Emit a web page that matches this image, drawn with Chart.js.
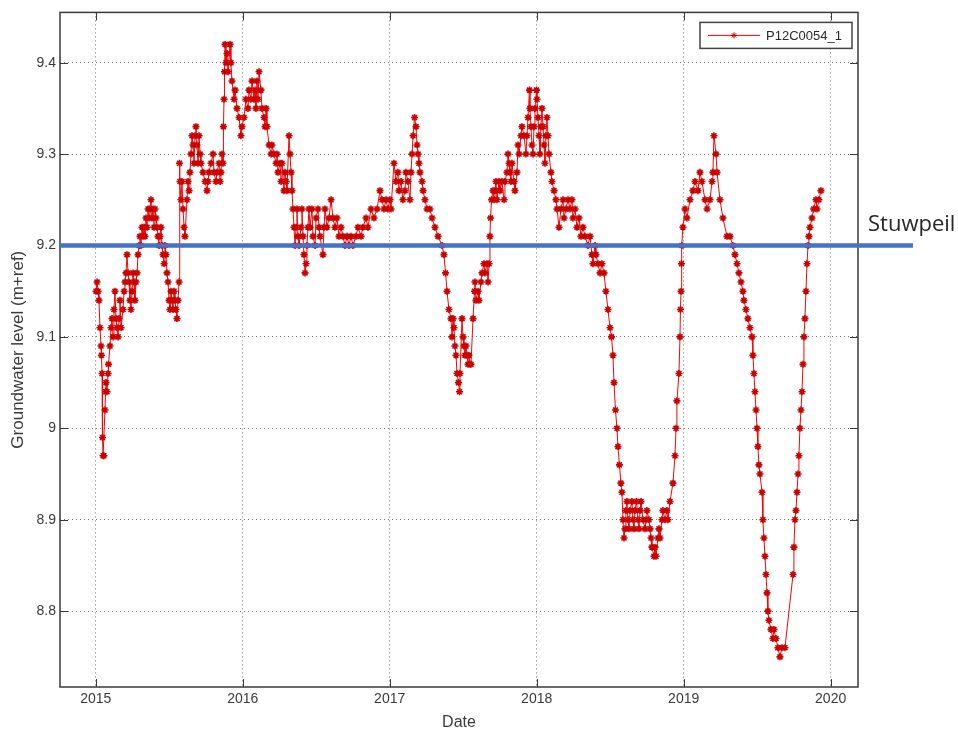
<!DOCTYPE html>
<html>
<head>
<meta charset="utf-8">
<title>P12C0054_1</title>
<script src="https://cdn.jsdelivr.net/npm/chart.js@4.4.1/dist/chart.umd.min.js"></script>
<style>
  html, body { margin: 0; padding: 0; background: #fff; }
  #wrap { position: relative; width: 958px; height: 729px; }
</style>
</head>
<body>
<div id="wrap"><canvas id="gwChart" width="958" height="729"></canvas></div>
<script>
const dates = [
  2015.002, 2015.009, 2015.016, 2015.022, 2015.029, 2015.036, 2015.039, 2015.043, 2015.046, 2015.050,
  2015.056, 2015.063, 2015.067, 2015.070, 2015.077, 2015.084, 2015.087, 2015.097, 2015.104, 2015.111,
  2015.118, 2015.124, 2015.131, 2015.138, 2015.145, 2015.152, 2015.159, 2015.165, 2015.172, 2015.186,
  2015.193, 2015.199, 2015.206, 2015.213, 2015.220, 2015.227, 2015.233, 2015.240, 2015.247, 2015.254,
  2015.261, 2015.267, 2015.274, 2015.281, 2015.288, 2015.295, 2015.301, 2015.308, 2015.315, 2015.322,
  2015.329, 2015.335, 2015.342, 2015.349, 2015.356, 2015.363, 2015.369, 2015.376, 2015.383, 2015.390,
  2015.397, 2015.403, 2015.410, 2015.417, 2015.424, 2015.431, 2015.437, 2015.444, 2015.451, 2015.458,
  2015.465, 2015.471, 2015.478, 2015.485, 2015.492, 2015.499, 2015.505, 2015.512, 2015.519, 2015.526,
  2015.533, 2015.539, 2015.546, 2015.553, 2015.560, 2015.567, 2015.570, 2015.573, 2015.580, 2015.587,
  2015.594, 2015.601, 2015.607, 2015.621, 2015.628, 2015.635, 2015.641, 2015.648, 2015.655, 2015.662,
  2015.669, 2015.676, 2015.682, 2015.689, 2015.696, 2015.703, 2015.710, 2015.716, 2015.730, 2015.744,
  2015.757, 2015.764, 2015.771, 2015.784, 2015.798, 2015.805, 2015.818, 2015.825, 2015.839, 2015.846,
  2015.852, 2015.859, 2015.866, 2015.869, 2015.873, 2015.876, 2015.880, 2015.886, 2015.893, 2015.900,
  2015.914, 2015.920, 2015.927, 2015.941, 2015.948, 2015.961, 2015.975, 2015.988, 2015.995, 2016.009,
  2016.022, 2016.036, 2016.043, 2016.056, 2016.063, 2016.077, 2016.084, 2016.090, 2016.097, 2016.104,
  2016.111, 2016.124, 2016.131, 2016.145, 2016.152, 2016.159, 2016.165, 2016.179, 2016.193, 2016.199,
  2016.213, 2016.227, 2016.233, 2016.240, 2016.254, 2016.261, 2016.267, 2016.281, 2016.288, 2016.295,
  2016.301, 2016.315, 2016.322, 2016.329, 2016.335, 2016.342, 2016.349, 2016.356, 2016.363, 2016.369,
  2016.376, 2016.383, 2016.397, 2016.403, 2016.410, 2016.417, 2016.424, 2016.431, 2016.437, 2016.444,
  2016.451, 2016.458, 2016.471, 2016.478, 2016.492, 2016.499, 2016.512, 2016.519, 2016.526, 2016.546,
  2016.553, 2016.560, 2016.573, 2016.587, 2016.601, 2016.614, 2016.628, 2016.641, 2016.655, 2016.669,
  2016.682, 2016.696, 2016.710, 2016.723, 2016.737, 2016.750, 2016.771, 2016.784, 2016.805, 2016.818,
  2016.839, 2016.852, 2016.873, 2016.893, 2016.914, 2016.934, 2016.948, 2016.961, 2016.975, 2016.988,
  2017.002, 2017.009, 2017.029, 2017.043, 2017.056, 2017.063, 2017.077, 2017.090, 2017.104, 2017.111,
  2017.124, 2017.138, 2017.145, 2017.152, 2017.159, 2017.169, 2017.179, 2017.186, 2017.193, 2017.199,
  2017.206, 2017.220, 2017.227, 2017.240, 2017.254, 2017.274, 2017.288, 2017.308, 2017.329, 2017.356,
  2017.369, 2017.380, 2017.390, 2017.403, 2017.417, 2017.424, 2017.431, 2017.437, 2017.444, 2017.451,
  2017.458, 2017.468, 2017.475, 2017.478, 2017.492, 2017.499, 2017.505, 2017.512, 2017.519, 2017.526,
  2017.533, 2017.539, 2017.546, 2017.553, 2017.567, 2017.577, 2017.580, 2017.587, 2017.601, 2017.607,
  2017.621, 2017.628, 2017.641, 2017.648, 2017.662, 2017.669, 2017.676, 2017.682, 2017.686, 2017.693,
  2017.703, 2017.710, 2017.716, 2017.723, 2017.730, 2017.744, 2017.750, 2017.764, 2017.778, 2017.784,
  2017.798, 2017.805, 2017.812, 2017.818, 2017.825, 2017.832, 2017.846, 2017.852, 2017.866, 2017.873,
  2017.880, 2017.893, 2017.900, 2017.914, 2017.927, 2017.934, 2017.941, 2017.951, 2017.954, 2017.961,
  2017.968, 2017.975, 2017.982, 2017.988, 2017.999, 2018.002, 2018.009, 2018.016, 2018.022, 2018.029,
  2018.036, 2018.043, 2018.050, 2018.056, 2018.063, 2018.070, 2018.077, 2018.084, 2018.097, 2018.104,
  2018.118, 2018.131, 2018.138, 2018.152, 2018.165, 2018.179, 2018.186, 2018.199, 2018.213, 2018.227,
  2018.240, 2018.247, 2018.261, 2018.274, 2018.288, 2018.301, 2018.315, 2018.329, 2018.349, 2018.363,
  2018.376, 2018.383, 2018.397, 2018.403, 2018.417, 2018.431, 2018.444, 2018.458, 2018.471, 2018.485,
  2018.499, 2018.509, 2018.519, 2018.526, 2018.536, 2018.546, 2018.553, 2018.563, 2018.573, 2018.580,
  2018.587, 2018.594, 2018.601, 2018.607, 2018.614, 2018.621, 2018.628, 2018.635, 2018.648, 2018.655,
  2018.662, 2018.669, 2018.679, 2018.689, 2018.696, 2018.703, 2018.710, 2018.723, 2018.737, 2018.744,
  2018.750, 2018.764, 2018.771, 2018.778, 2018.784, 2018.798, 2018.805, 2018.812, 2018.825, 2018.832,
  2018.839, 2018.852, 2018.859, 2018.873, 2018.886, 2018.893, 2018.907, 2018.927, 2018.941, 2018.948,
  2018.954, 2018.968, 2018.975, 2018.978, 2018.982, 2018.985, 2018.988, 2018.995, 2019.009, 2019.022,
  2019.043, 2019.063, 2019.077, 2019.097, 2019.111, 2019.124, 2019.145, 2019.159, 2019.179, 2019.193,
  2019.199, 2019.206, 2019.220, 2019.227, 2019.247, 2019.267, 2019.295, 2019.315, 2019.335, 2019.349,
  2019.363, 2019.376, 2019.390, 2019.403, 2019.410, 2019.424, 2019.437, 2019.451, 2019.465, 2019.471,
  2019.478, 2019.485, 2019.492, 2019.499, 2019.505, 2019.512, 2019.519, 2019.533, 2019.539, 2019.546,
  2019.553, 2019.560, 2019.567, 2019.573, 2019.580, 2019.594, 2019.607, 2019.614, 2019.628, 2019.641,
  2019.655, 2019.669, 2019.689, 2019.744, 2019.750, 2019.757, 2019.764, 2019.771, 2019.778, 2019.784,
  2019.791, 2019.798, 2019.805, 2019.812, 2019.818, 2019.825, 2019.832, 2019.839, 2019.846, 2019.852,
  2019.859, 2019.873, 2019.884, 2019.900, 2019.907, 2019.920, 2019.934
];

// groundwater level (m+ref)
const levels = [
  9.15, 9.16, 9.15, 9.14, 9.11, 9.09, 9.08, 9.06, 8.99, 8.97,
  8.97, 9.02, 9.04, 9.05, 9.04, 9.06, 9.07, 9.09, 9.11, 9.12,
  9.10, 9.13, 9.15, 9.12, 9.11, 9.10, 9.12, 9.14, 9.11, 9.13,
  9.15, 9.16, 9.17, 9.19, 9.17, 9.16, 9.14, 9.13, 9.15, 9.17,
  9.16, 9.14, 9.16, 9.17, 9.19, 9.20, 9.21, 9.20, 9.22, 9.21,
  9.22, 9.21, 9.23, 9.22, 9.24, 9.23, 9.24, 9.25, 9.23, 9.24,
  9.22, 9.24, 9.23, 9.22, 9.21, 9.20, 9.21, 9.22, 9.20, 9.19,
  9.18, 9.20, 9.19, 9.17, 9.16, 9.14, 9.13, 9.15, 9.14, 9.13,
  9.15, 9.14, 9.13, 9.12, 9.14, 9.16, 9.29, 9.27, 9.25, 9.27,
  9.24, 9.22, 9.21, 9.25, 9.27, 9.26, 9.28, 9.30, 9.32, 9.31,
  9.29, 9.32, 9.33, 9.31, 9.29, 9.32, 9.30, 9.29, 9.28, 9.27,
  9.26, 9.27, 9.28, 9.29, 9.30, 9.28, 9.27, 9.28, 9.29, 9.27,
  9.28, 9.30, 9.29, 9.33, 9.36, 9.39, 9.42, 9.40, 9.41, 9.39,
  9.42, 9.40, 9.38, 9.36, 9.37, 9.35, 9.34, 9.32, 9.33, 9.34,
  9.36, 9.35, 9.37, 9.36, 9.38, 9.36, 9.37, 9.35, 9.38, 9.36,
  9.39, 9.37, 9.35, 9.34, 9.33, 9.35, 9.33, 9.31, 9.30, 9.31,
  9.30, 9.29, 9.30, 9.28, 9.29, 9.27, 9.29, 9.26, 9.28, 9.27,
  9.26, 9.32, 9.30, 9.28, 9.26, 9.24, 9.22, 9.20, 9.22, 9.24,
  9.21, 9.20, 9.22, 9.24, 9.21, 9.19, 9.17, 9.18, 9.20, 9.22,
  9.24, 9.22, 9.24, 9.21, 9.20, 9.23, 9.24, 9.22, 9.21, 9.19,
  9.22, 9.24, 9.22, 9.23, 9.25, 9.23, 9.22, 9.23, 9.21, 9.22,
  9.21, 9.20, 9.21, 9.20, 9.21, 9.20, 9.21, 9.22, 9.21, 9.22,
  9.23, 9.22, 9.24, 9.23, 9.24, 9.26, 9.25, 9.24, 9.25, 9.24,
  9.25, 9.24, 9.29, 9.27, 9.28, 9.26, 9.27, 9.25, 9.26, 9.28,
  9.27, 9.25, 9.28, 9.30, 9.32, 9.34, 9.33, 9.31, 9.30, 9.29,
  9.28, 9.27, 9.26, 9.25, 9.24, 9.24, 9.23, 9.22, 9.21, 9.20,
  9.19, 9.17, 9.15, 9.13, 9.12, 9.10, 9.12, 9.11, 9.09, 9.08,
  9.06, 9.05, 9.04, 9.06, 9.12, 9.10, 9.09, 9.08, 9.09, 9.08,
  9.07, 9.08, 9.07, 9.07, 9.12, 9.15, 9.16, 9.14, 9.15, 9.14,
  9.16, 9.17, 9.18, 9.17, 9.18, 9.16, 9.18, 9.21, 9.23, 9.25,
  9.26, 9.25, 9.26, 9.27, 9.25, 9.27, 9.26, 9.27, 9.25, 9.27,
  9.28, 9.30, 9.29, 9.28, 9.27, 9.29, 9.27, 9.26, 9.28, 9.31,
  9.30, 9.32, 9.33, 9.32, 9.30, 9.32, 9.34, 9.37, 9.35, 9.33,
  9.31, 9.30, 9.33, 9.35, 9.37, 9.36, 9.34, 9.32, 9.30, 9.33,
  9.35, 9.33, 9.31, 9.29, 9.32, 9.34, 9.32, 9.30, 9.28, 9.27,
  9.26, 9.25, 9.24, 9.22, 9.24, 9.25, 9.23, 9.24, 9.25, 9.24,
  9.25, 9.23, 9.24, 9.22, 9.23, 9.21, 9.22, 9.21, 9.20, 9.21,
  9.19, 9.18, 9.20, 9.19, 9.18, 9.17, 9.18, 9.17, 9.15, 9.13,
  9.11, 9.10, 9.08, 9.05, 9.02, 9.00, 8.98, 8.96, 8.94, 8.93,
  8.90, 8.88, 8.89, 8.91, 8.92, 8.90, 8.89, 8.91, 8.92, 8.90,
  8.89, 8.91, 8.92, 8.90, 8.89, 8.91, 8.92, 8.90, 8.89, 8.90,
  8.91, 8.90, 8.89, 8.88, 8.87, 8.86, 8.87, 8.86, 8.88, 8.89,
  8.88, 8.90, 8.91, 8.90, 8.91, 8.90, 8.92, 8.94, 8.97, 9.00,
  9.03, 9.06, 9.10, 9.13, 9.15, 9.18, 9.20, 9.22, 9.24, 9.23,
  9.25, 9.26, 9.27, 9.26, 9.28, 9.27, 9.25, 9.24, 9.25, 9.27,
  9.28, 9.32, 9.30, 9.28, 9.25, 9.23, 9.21, 9.21, 9.20, 9.19,
  9.18, 9.17, 9.16, 9.15, 9.14, 9.13, 9.12, 9.11, 9.10, 9.08,
  9.06, 9.04, 9.02, 9.00, 8.98, 8.96, 8.95, 8.93, 8.90, 8.88,
  8.86, 8.84, 8.82, 8.80, 8.79, 8.78, 8.77, 8.78, 8.77, 8.76,
  8.75, 8.76, 8.76, 8.84, 8.87, 8.90, 8.91, 8.93, 8.95, 8.97,
  9.00, 9.02, 9.04, 9.07, 9.10, 9.12, 9.15, 9.18, 9.20, 9.21,
  9.22, 9.23, 9.24, 9.25, 9.24, 9.25, 9.26
];

const seriesName = 'P12C0054_1';
const xTicks = [2015, 2016, 2017, 2018, 2019, 2020];
const yTicks = [8.8, 8.9, 9, 9.1, 9.2, 9.3, 9.4];
const xRange = [2014.757, 2020.186];
const yRange = [8.717, 9.455];

// weir level (stuwpeil) reference line
const stuwpeilLabel = 'Stuwpeil';
const stuwpeilLevel = 9.2;
const stuwpeilSpan = [2014.757, 2020.56];

const axisColor = '#3a3a3a';
const tickFont = { family: '"Liberation Sans", Arial, sans-serif', size: 14 };

// MATLAB style box around the axes with inward ticks
const axesBox = {
  id: 'axesBox',
  beforeDatasetsDraw(chart) {
    const { ctx, chartArea: a, scales } = chart;
    ctx.save();
    ctx.strokeStyle = axisColor;
    ctx.lineWidth = 1;
    ctx.beginPath();
    scales.x.ticks.forEach(t => {
      const px = Math.round(scales.x.getPixelForValue(t.value)) + 0.5;
      ctx.moveTo(px, a.bottom); ctx.lineTo(px, a.bottom - 8);
      ctx.moveTo(px, a.top); ctx.lineTo(px, a.top + 8);
    });
    scales.y.ticks.forEach(t => {
      const py = Math.round(scales.y.getPixelForValue(t.value)) + 0.5;
      ctx.moveTo(a.left, py); ctx.lineTo(a.left + 8, py);
      ctx.moveTo(a.right, py); ctx.lineTo(a.right - 8, py);
    });
    ctx.stroke();
    ctx.lineWidth = 1.5;
    ctx.strokeRect(a.left, a.top, a.right - a.left, a.bottom - a.top);
    ctx.restore();
  }
};

// legend box in the top right corner + the Stuwpeil label
const overlay = {
  id: 'overlay',
  afterDraw(chart) {
    const { ctx, chartArea: a, scales } = chart;
    ctx.save();
    const bx = a.right - 158, by = a.top + 10, bw = 152, bh = 26;
    ctx.fillStyle = '#fff';
    ctx.fillRect(bx, by, bw, bh);
    ctx.strokeStyle = '#444';
    ctx.lineWidth = 1.5;
    ctx.strokeRect(bx, by, bw, bh);
    const ly = by + bh / 2;
    ctx.strokeStyle = 'rgb(255,0,0)';
    ctx.lineWidth = 1;
    ctx.beginPath();
    ctx.moveTo(bx + 8, ly); ctx.lineTo(bx + 60, ly);
    ctx.stroke();
    ctx.strokeStyle = 'rgb(190,0,0)';
    Chart.helpers.drawPoint(ctx, { pointStyle: 'star', radius: 3, borderWidth: 1.4, rotation: 0 }, bx + 34, ly);
    ctx.fillStyle = '#2a2a2a';
    ctx.font = '13px "Liberation Sans", Arial, sans-serif';
    ctx.textBaseline = 'middle';
    ctx.fillText(seriesName, bx + 66, ly + 1);

    const sy = scales.y.getPixelForValue(stuwpeilLevel);
    ctx.fillStyle = '#262626';
    ctx.font = '22px "Open Sans", sans-serif';
    ctx.textBaseline = 'alphabetic';
    ctx.fillText(stuwpeilLabel, a.right + 10, sy - 14);
    ctx.restore();
  }
};

const ctx = document.getElementById('gwChart').getContext('2d');
new Chart(ctx, {
  type: 'line',
  data: {
    datasets: [
      {
        label: stuwpeilLabel,
        data: stuwpeilSpan.map(x => ({ x: x, y: stuwpeilLevel })),
        borderColor: '#4472C4',
        borderWidth: 4.5,
        pointRadius: 0,
        clip: false,
        order: 0
      },
      {
        label: seriesName,
        data: dates.map((d, i) => ({ x: d, y: levels[i] })),
        borderColor: 'rgb(255,0,0)',
        borderWidth: 1,
        pointStyle: 'star',
        pointRadius: 3.5,
        pointBorderWidth: 1.6,
        pointBorderColor: 'rgb(205,0,0)',
        pointBackgroundColor: 'rgb(205,0,0)',
        tension: 0,
        order: 1
      }
    ]
  },
  options: {
    responsive: false,
    animation: false,
    devicePixelRatio: 1,
    layout: { padding: { left: 0, top: 11, right: 100, bottom: 0 } },
    plugins: {
      legend: { display: false },
      tooltip: { enabled: false }
    },
    scales: {
      x: {
        type: 'linear',
        min: xRange[0],
        max: xRange[1],
        afterFit: s => { s.height = 42; },
        afterBuildTicks: s => { s.ticks = xTicks.map(v => ({ value: v })); },
        ticks: {
          color: axisColor,
          font: tickFont,
          padding: 4,
          maxRotation: 0,
          callback: v => String(Math.round(v))
        },
        grid: { color: 'rgba(60,60,60,0.7)', lineWidth: 1, drawTicks: false },
        border: { display: false, dash: [1, 3] },
        title: {
          display: true,
          text: 'Date',
          color: axisColor,
          font: { family: '"Liberation Sans", Arial, sans-serif', size: 16, lineHeight: 1 },
          padding: { top: 0, bottom: -2 }
        }
      },
      y: {
        type: 'linear',
        min: yRange[0],
        max: yRange[1],
        afterFit: s => { s.width = 60; },
        afterBuildTicks: s => { s.ticks = yTicks.map(v => ({ value: v })); },
        ticks: {
          color: axisColor,
          font: tickFont,
          padding: 4,
          callback: v => String(+v.toFixed(2))
        },
        grid: { color: 'rgba(60,60,60,0.7)', lineWidth: 1, drawTicks: false },
        border: { display: false, dash: [1, 3] },
        title: {
          display: true,
          text: 'Groundwater level (m+ref)',
          color: axisColor,
          font: { family: '"Liberation Sans", Arial, sans-serif', size: 17, lineHeight: 1 },
          padding: { top: 10, bottom: 0 }
        }
      }
    }
  },
  plugins: [axesBox, overlay]
});
</script>
</body>
</html>
